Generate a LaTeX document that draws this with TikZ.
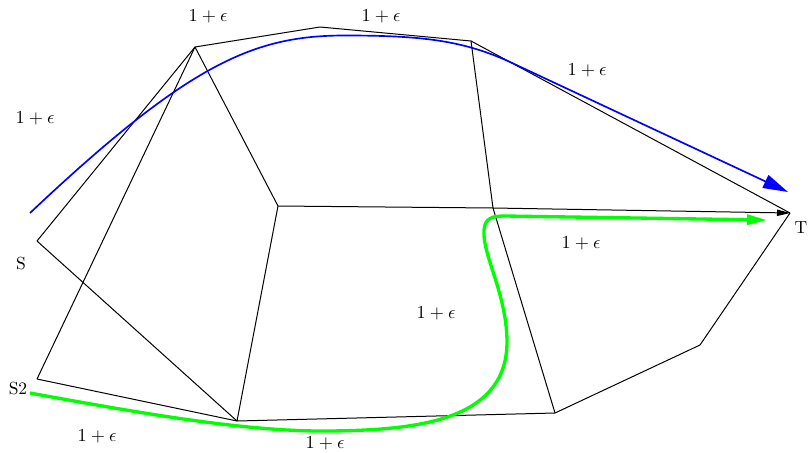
\documentclass[tikz,border=0pt]{standalone}
\usetikzlibrary{arrows.meta}
\begin{document}
\begin{tikzpicture}[x=0.6pt,y=-0.6pt,
  edge/.style={draw=black,line width=0.6pt},
  lbl/.style={font=\fontsize{10.5}{12}\selectfont, inner sep=0pt},
  bluepath/.style={draw=blue,line width=1pt,-{Triangle[length=15pt,width=8.4pt]}},
  greenpath/.style={draw=green,line width=2pt,-{Triangle[length=12pt,width=6pt]}},
  blackarrow/.style={-{Triangle[length=7.8pt,width=3.8pt]}}]
\useasboundingbox (0,0) rectangle (808,452);
% vertices
\coordinate (S) at (37,241);
\coordinate (S2) at (37,379);
\coordinate (A) at (195,47);
\coordinate (B) at (320,27);
\coordinate (C) at (471,41);
\coordinate (D) at (278,206);
\coordinate (E) at (493,208);
\coordinate (T) at (790,213);
\coordinate (F) at (237,421);
\coordinate (G) at (555,413);
\coordinate (H) at (700,345);
% edges
\draw[edge] (S) -- (A);
\draw[edge] (S) -- (F);
\draw[edge] (S2) -- (A);
\draw[edge] (S2) -- (F);
\draw[edge] (A) -- (B);
\draw[edge] (B) -- (C);
\draw[edge] (C) -- (T);
\draw[edge] (A) -- (D);
\draw[edge] (D) -- (E);
\draw[edge,blackarrow] (E) -- (T);
\draw[edge] (C) -- (E);
\draw[edge] (E) -- (G);
\draw[edge] (D) -- (F);
\draw[edge] (F) -- (G);
\draw[edge] (G) -- (H);
\draw[edge] (H) -- (T);
% blue path
\coordinate (b0) at (30,213);
\coordinate (b1) at (345,35.5);
\coordinate (b2) at (510,62);
\coordinate (b3) at (788,192);
\draw[bluepath] (b0) .. controls (190,62) and (255,35.5) .. (b1)
  .. controls (420,35.5) and (462,40) .. (b2) -- (b3);
% green path
\coordinate (g0) at (30,393);
\coordinate (g1) at (330,431);
\coordinate (g2) at (507,340);
\coordinate (g3) at (484,230);
\coordinate (g4) at (505,216);
\coordinate (g5) at (767,220);
\draw[greenpath] (g0) .. controls (150,415) and (250,432) .. (g1)
  .. controls (420,430) and (508,420) .. (g2)
  .. controls (506,292) and (482,254) .. (g3)
  .. controls (485,218) and (492,216) .. (g4) -- (g5);
% labels
\node[lbl] (lS) at (21,264) {S};
\node[lbl] (lS2) at (18,389) {S2};
\node[lbl] (lT) at (801,228) {T};
\node[lbl] (e1) at (208,16) {$1+\epsilon$};
\node[lbl] (e2) at (381,16) {$1+\epsilon$};
\node[lbl] (e3) at (587,70) {$1+\epsilon$};
\node[lbl] (e4) at (35,118) {$1+\epsilon$};
\node[lbl] (e5) at (581,243) {$1+\epsilon$};
\node[lbl] (e6) at (436,313) {$1+\epsilon$};
\node[lbl] (e7) at (97,436) {$1+\epsilon$};
\node[lbl] (e8) at (325,443) {$1+\epsilon$};
\end{tikzpicture}
\end{document}
